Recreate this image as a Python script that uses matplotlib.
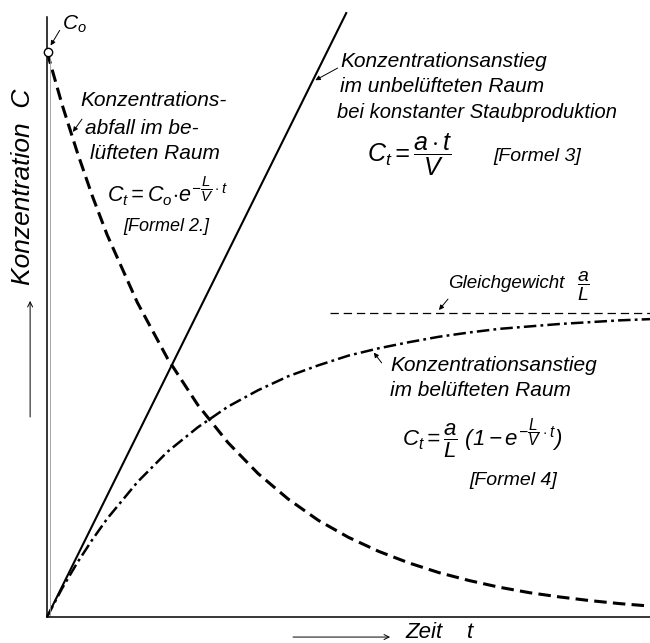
import matplotlib
matplotlib.use('agg')
import matplotlib.pyplot as plt

# values (time t in arbitrary units, concentration C in arbitrary units)
t_curve = [0, 0.25, 0.5, 0.75, 1, 1.5, 2, 2.5, 3, 3.5, 4, 4.5, 5, 5.5, 6, 6.5, 7, 7.5, 8, 8.5, 9, 9.5, 10]
c_decay = [93.0, 84.3, 76.5, 69.3, 62.8, 51.7, 42.5, 34.9, 28.7, 23.6, 19.4, 15.9, 13.1, 10.8, 8.9,
           7.3, 6.0, 4.9, 4.0, 3.3, 2.7, 2.2, 1.8]
c_rise = [0.0, 4.7, 8.9, 12.7, 16.2, 22.2, 27.2, 31.2, 34.6, 37.3, 39.6, 41.4, 43.0, 44.2, 45.2,
          46.1, 46.8, 47.4, 47.8, 48.2, 48.5, 48.8, 49.0]
t_linear = [0, 4.97]
c_linear = [0, 99.5]
c_equil = 50.0
t_equil = [4.7, 10]
c0 = 93.0

FONT = ['Liberation Sans', 'DejaVu Sans']
plt.rcParams['font.family'] = FONT
plt.rcParams['font.style'] = 'italic'
plt.rcParams['mathtext.fontset'] = 'custom'
plt.rcParams['mathtext.rm'] = 'Liberation Sans:italic'
plt.rcParams['mathtext.it'] = 'Liberation Sans:italic'
plt.rcParams['mathtext.bf'] = 'Liberation Sans:italic'
plt.rcParams['lines.scale_dashes'] = False

fig = plt.figure(figsize=(6.5, 6.43), dpi=100)
ax = fig.add_axes([47 / 650, 26 / 643, 603 / 650, 600 / 643])
ax.set_xlim(0, 10)
ax.set_ylim(0, 98.7)

for s in ['top', 'right']:
    ax.spines[s].set_visible(False)
for s in ['left', 'bottom']:
    ax.spines[s].set_linewidth(1.1)
ax.set_xticks([])
ax.set_yticks([])

# curves
ax.plot(t_linear, c_linear, color='black', lw=1.5, clip_on=False, solid_capstyle='butt')
ax.plot(t_curve, c_decay, color='black', lw=2.2, dashes=(9, 4.5), clip_on=False)
ax.plot(t_curve, c_rise, color='black', lw=1.8, dashes=(9, 3, 2, 3), clip_on=False)
ax.plot(t_equil, [c_equil, c_equil], color='black', lw=0.9, dashes=(6, 3.5), clip_on=False)
ax.plot([0.05, 0.05], [0, c0], color='#999999', lw=0.6)
ax.plot([0.02], [c0], marker='o', ms=6, mfc='white', mec='black', mew=1.0, clip_on=False, zorder=5)

arr = dict(arrowstyle='-|>', color='black', lw=0.7, mutation_scale=7, shrinkA=0, shrinkB=0)

# C0
ax.text(0.25, 97.5, '$C_o$', fontsize=15, va='center', ha='left')
ax.annotate('', xy=(0.06, 94.0), xytext=(0.21, 96.5), arrowprops=arr, annotation_clip=False)

# Formel 2
ax.text(0.55, 85.0, 'Konzentrations-', fontsize=15, va='center')
ax.text(0.63, 80.4, 'abfall im be-', fontsize=15, va='center')
ax.text(0.71, 76.3, 'lüfteten Raum', fontsize=15, va='center')
ax.text(1.0, 70.0, r'$C_t = C_o\!\cdot\! e^{-\dfrac{L}{V}\cdot t}$', fontsize=15.5, va='center')
ax.text(1.26, 64.2, '[Formel 2.]', fontsize=13, va='center')
ax.annotate('', xy=(0.43, 79.8), xytext=(0.58, 81.9), arrowprops=arr)

# Formel 3
ax.text(4.86, 91.3, 'Konzentrationsanstieg', fontsize=15, va='center')
ax.text(4.86, 87.2, 'im unbelüfteten Raum', fontsize=15, va='center')
ax.text(4.81, 83.0, 'bei konstanter Staubproduktion', fontsize=14.5, va='center')
ax.text(5.31, 76.0, r'$C_t = \dfrac{a\cdot t}{V}$', fontsize=18, va='center')
ax.text(7.40, 75.7, '[Formel 3]', fontsize=14, va='center')
ax.annotate('', xy=(4.45, 88.3), xytext=(4.82, 90.3), arrowprops=arr)

# Gleichgewicht
ax.text(6.65, 54.9, 'Gleichgewicht', fontsize=13.5, va='center')
ax.text(8.79, 54.3, r'$\dfrac{a}{L}$', fontsize=14, va='center')
ax.annotate('', xy=(6.5, 50.5), xytext=(6.65, 52.3), arrowprops=arr)

# Formel 4
ax.text(5.69, 41.4, 'Konzentrationsanstieg', fontsize=15, va='center')
ax.text(5.69, 37.3, 'im belüfteten Raum', fontsize=15, va='center')
ax.text(5.89, 29.3, r'$C_t = \dfrac{a}{L}\ (1 - e^{-\dfrac{L}{V}\cdot t})$', fontsize=16, va='center')
ax.text(7.01, 22.5, '[Formel 4]', fontsize=14, va='center')
ax.annotate('', xy=(5.42, 43.5), xytext=(5.55, 41.8), arrowprops=arr)

# axis labels with arrows
ax.text(-0.40, 70.7, 'Konzentration  C', fontsize=19, rotation=90, va='center', ha='center', clip_on=False)
ax.annotate('', xy=(-0.28, 52.0), xytext=(-0.28, 32.9), annotation_clip=False,
            arrowprops=dict(arrowstyle='->', color='black', lw=0.7, mutation_scale=9, shrinkA=0, shrinkB=0))
ax.annotate('', xy=(5.69, -3.3), xytext=(4.08, -3.3), annotation_clip=False,
            arrowprops=dict(arrowstyle='->', color='black', lw=0.7, mutation_scale=9, shrinkA=0, shrinkB=0))
ax.text(5.94, -2.6, 'Zeit', fontsize=16, va='center', clip_on=False)
ax.text(6.97, -2.6, 't', fontsize=16, va='center', clip_on=False)

fig.savefig('out.png', dpi=100)
plt.close()
